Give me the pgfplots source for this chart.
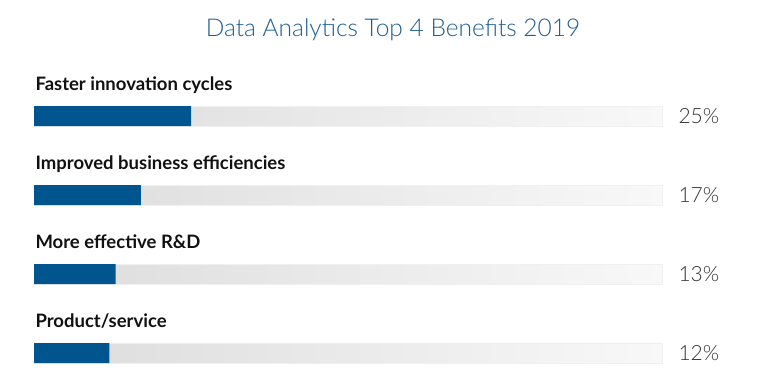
\documentclass[border=0pt]{standalone}
\usepackage{fontspec}
\usepackage{pgfplots}
\pgfplotsset{compat=1.18}
\setmainfont{Lato}
\newfontfamily\latolight{Lato Light}
\newfontfamily\latobold{Lato Bold}
\definecolor{barblue}{HTML}{00558F}
\definecolor{titleblue}{HTML}{1F5E94}
\definecolor{trackL}{HTML}{DCDCDC}
\definecolor{trackR}{HTML}{F8F8F8}
\definecolor{labtext}{HTML}{111111}
\definecolor{pcttext}{HTML}{333333}
\begin{document}
\begin{tikzpicture}
\node[anchor=base, text=titleblue, font=\latolight\fontsize{24.5bp}{28bp}\selectfont] at (393bp,-36.7bp) {Data Analytics Top 4 Benefits 2019};
\begin{axis}[
  at={(34bp,-76.5bp)}, anchor=north west,
  scale only axis, width=628bp, height=316bp,
  xmin=0, xmax=100, ymin=-0.5, ymax=3.5, y dir=reverse,
  axis lines=none, ticks=none, clip=false,
  xbar, bar width=20bp, bar shift=0pt,
  /pgf/number format/assume math mode=true,
]
\addplot[draw=black!6, left color=trackL, right color=trackR,
  point meta=explicit,
  nodes near coords={\pgfmathprintnumber{\pgfplotspointmeta}\%},
  every node near coord/.append style={anchor=west, xshift=13bp, text=pcttext,
     font=\latolight\fontsize{21bp}{24bp}\selectfont}]
  coordinates {(100,0) [25] (100,1) [17] (100,2) [13] (100,3) [12]};
\addplot[draw=none, fill=barblue] coordinates {(25,0) (17,1) (13,2) (12,3)};
\node[anchor=base west, xshift=-2bp, yshift=25.3bp, text=labtext, font=\latobold\fontsize{18.5bp}{22bp}\selectfont] at (axis cs:0,0) {Faster innovation cycles};
\node[anchor=base west, xshift=-2bp, yshift=25.3bp, text=labtext, font=\latobold\fontsize{18.5bp}{22bp}\selectfont] at (axis cs:0,1) {Improved business efficiencies};
\node[anchor=base west, xshift=-2bp, yshift=25.3bp, text=labtext, font=\latobold\fontsize{18.5bp}{22bp}\selectfont] at (axis cs:0,2) {More effective R\&D};
\node[anchor=base west, xshift=-2bp, yshift=25.3bp, text=labtext, font=\latobold\fontsize{18.5bp}{22bp}\selectfont] at (axis cs:0,3) {Product/service};
\end{axis}
\pgfresetboundingbox
\path[use as bounding box] (0,0) rectangle (771bp,-385bp);
\end{tikzpicture}
\end{document}
